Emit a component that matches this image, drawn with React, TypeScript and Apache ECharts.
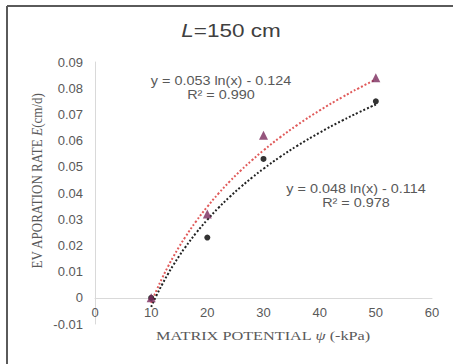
import React, { useEffect, useRef } from "react";
import * as echarts from "echarts";

const xTriangle = [10, 20, 30, 50];
const yTriangle = [0, 0.032, 0.062, 0.084];
const xCircle = [10, 20, 30, 50];
const yCircle = [0, 0.023, 0.053, 0.075];
// displayed fit coefficients: y = a ln(x) + b
const fitTriangle = { a: 0.053, b: -0.124 };
const fitCircle = { a: 0.048, b: -0.114 };
const fitXs = [10, 11, 12, 13, 14, 15, 16, 18, 20, 22, 24, 26, 28, 30, 33, 36, 40, 44, 47, 50];

const eqTriangle = ["y = 0.053 ln(x) - 0.124", "R² = 0.990"];
const eqCircle = ["y = 0.048 ln(x) - 0.114", "R² = 0.978"];

const SANS = "'Liberation Sans', Arial, sans-serif";
const SERIF = "'Liberation Serif', 'Times New Roman', serif";
const SX = 1.2;

export default function App() {
  const ref = useRef<HTMLDivElement>(null);
  useEffect(() => {
    if (!ref.current) return;
    const chart = echarts.init(ref.current, null, { renderer: "svg" });
    const trend = (f: { a: number; b: number }) =>
      fitXs.map((x) => [x, f.a * Math.log(x) + f.b]);
    const eqText = (lines: string[], x: number, y: number) => ({
      type: "text",
      x,
      y,
      scaleX: SX,
      style: {
        text: lines.join("\n"),
        fontFamily: SANS,
        fontSize: 12,
        lineHeight: 14,
        fill: "#595959",
        align: "center",
        verticalAlign: "middle",
      },
    });
    chart.setOption({
      animation: false,
      backgroundColor: "#fff",
      grid: { left: 95, right: 21, top: 62, bottom: 40 },
      xAxis: {
        type: "value",
        min: 0,
        max: 60,
        interval: 10,
        offset: -26.2,
        axisLine: { onZero: false, lineStyle: { color: "#D9D9D9", width: 1 } },
        axisTick: { show: false },
        splitLine: { show: false },
        axisLabel: { color: "#595959", fontFamily: SANS, fontSize: 13, margin: 8 },
      },
      yAxis: {
        type: "value",
        min: -0.01,
        max: 0.09,
        interval: 0.01,
        axisLine: { show: true, onZero: false, lineStyle: { color: "#D9D9D9", width: 1 } },
        axisTick: { show: false },
        splitLine: { show: false },
        axisLabel: { color: "#595959", fontFamily: SANS, fontSize: 13, margin: 12 },
      },
      graphic: [
        { type: "line", shape: { x1: 7, y1: 6, x2: 453, y2: 6 }, style: { stroke: "#5a5a5a", lineWidth: 2 } },
        { type: "line", shape: { x1: 7, y1: 6, x2: 7, y2: 364 }, style: { stroke: "#5a5a5a", lineWidth: 2 } },
        {
          type: "text",
          x: 231,
          y: 31,
          scaleX: 1.25,
          style: {
            text: "{i|L}=150 cm",
            fontFamily: SANS,
            fontSize: 18,
            fill: "#404040",
            align: "center",
            verticalAlign: "middle",
            rich: { i: { fontStyle: "italic", fontFamily: SANS, fontSize: 18, fill: "#404040" } },
          },
        },
        {
          type: "text",
          x: 37,
          y: 181,
          rotation: Math.PI / 2,
          scaleY: 1.15,
          style: {
            text: "EV APORATION RATE {i|E}(cm/d)",
            fontFamily: SERIF,
            fontSize: 13,
            fill: "#595959",
            align: "center",
            verticalAlign: "middle",
            rich: { i: { fontStyle: "italic", fontFamily: SERIF, fontSize: 13, fill: "#595959" } },
          },
        },
        {
          type: "text",
          x: 263,
          y: 336,
          scaleX: 1.25,
          style: {
            text: "MATRIX POTENTIAL {i|ψ} (-kPa)",
            fontFamily: SERIF,
            fontSize: 13,
            fill: "#595959",
            align: "center",
            verticalAlign: "middle",
            rich: { i: { fontStyle: "italic", fontFamily: SERIF, fontSize: 13, fill: "#595959" } },
          },
        },
        eqText(eqTriangle, 221, 88),
        eqText(eqCircle, 356, 196),
      ],
      series: [
        {
          type: "line",
          data: trend(fitTriangle),
          smooth: true,
          showSymbol: false,
          lineStyle: { color: "#E05A5A", width: 2, type: [2, 2] },
          z: 2,
        },
        {
          type: "line",
          data: trend(fitCircle),
          smooth: true,
          showSymbol: false,
          lineStyle: { color: "#222222", width: 2, type: [2, 2] },
          z: 2,
        },
        {
          type: "scatter",
          data: xCircle.map((x, i) => [x, yCircle[i]]),
          symbol: "circle",
          symbolSize: 6,
          itemStyle: { color: "#000000" },
          z: 3,
        },
        {
          type: "scatter",
          data: xTriangle.map((x, i) => [x, yTriangle[i]]),
          symbol: "triangle",
          symbolSize: 9,
          itemStyle: { color: "#7B2A5C" },
          z: 4,
        },
      ],
    });
    return () => chart.dispose();
  }, []);
  return <div ref={ref} style={{ width: 453, height: 364, position: "absolute", left: 0, top: 0 }} />;
}
